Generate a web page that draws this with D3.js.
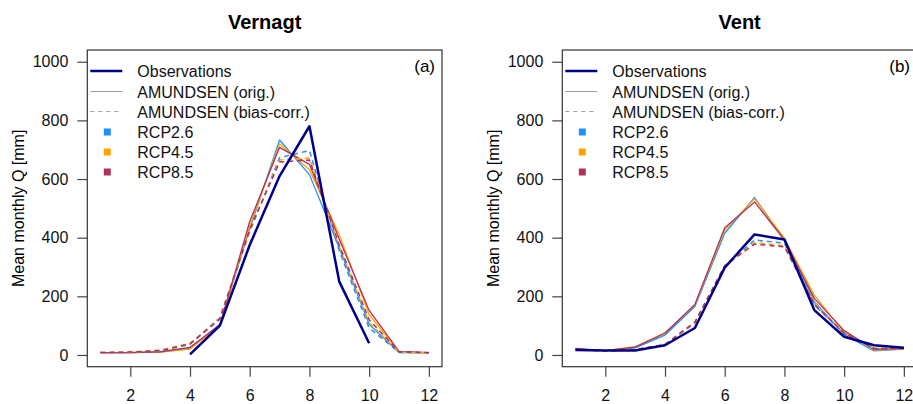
<!DOCTYPE html>
<html>
<head>
<meta charset="utf-8">
<script src="https://cdn.jsdelivr.net/npm/d3@7"></script>
<style>
  html, body { margin: 0; padding: 0; background: #fff; }
  svg { display: block; font-family: "Liberation Sans", Arial, sans-serif; }
</style>
</head>
<body>
<svg id="chart" width="913" height="404"></svg>
<script>
// Months on the x axis
const months = [1, 2, 3, 4, 5, 6, 7, 8, 9, 10, 11, 12];
const xTicks = [2, 4, 6, 8, 10, 12];
const yTicks = [0, 200, 400, 600, 800, 1000];

// Vernagt: mean monthly runoff [mm]
const vernagtObs = [null, null, null, 2, 100, 375, 610, 780, 250, 40, null, null];
const vernagtOrig26 = [8, 8, 10, 22, 105, 430, 733, 615, 365, 105, 8, 7];
const vernagtOrig45 = [8, 8, 10, 20, 100, 440, 720, 632, 410, 138, 10, 7];
const vernagtOrig85 = [8, 8, 11, 26, 102, 455, 708, 650, 395, 152, 12, 8];
const vernagtBias26 = [8, 9, 14, 36, 128, 420, 673, 697, 355, 92, 9, 7];
const vernagtBias45 = [8, 10, 16, 40, 125, 425, 665, 672, 370, 110, 10, 7];
const vernagtBias85 = [8, 10, 15, 38, 122, 428, 658, 665, 375, 120, 11, 8];

// Vent: mean monthly runoff [mm]
const ventObs = [17, 15, 15, 33, 92, 298, 411, 394, 153, 62, 33, 25];
const ventOrig26 = [20, 15, 24, 68, 165, 415, 537, 392, 182, 70, 14, 20];
const ventOrig45 = [18, 15, 28, 76, 170, 426, 533, 398, 204, 76, 17, 20];
const ventOrig85 = [22, 15, 27, 74, 172, 434, 522, 392, 193, 83, 19, 22];
const ventBias26 = [18, 14, 18, 35, 108, 300, 392, 381, 170, 73, 22, 22];
const ventBias45 = [18, 14, 18, 36, 110, 302, 383, 373, 178, 73, 22, 22];
const ventBias85 = [20, 14, 18, 36, 112, 305, 378, 369, 172, 75, 22, 22];

const scenarios = ["RCP2.6", "RCP4.5", "RCP8.5"];
const scenarioColors = ["#1E90FF", "#FFA500", "#B03060"];
const obsColor = "#00008B";
const legendGrey = "#A0A0A0";

const svg = d3.select("#chart");
svg.append("rect").attr("width", 913).attr("height", 404).attr("fill", "#fff");

function drawPanel(cfg) {
  const x = d3.scaleLinear().domain([0.56, 12.44]).range([cfg.left, cfg.left + 354.7]);
  const y = d3.scaleLinear().domain([-40, 1040]).range([366.7, 50]);
  const g = svg.append("g");

  // Axes
  const xAxis = d3.axisBottom(x).tickValues(xTicks).tickSize(10).tickPadding(13).tickFormat(d3.format("d"));
  const yAxis = d3.axisLeft(y).tickValues(yTicks).tickSize(10).tickPadding(9).tickFormat(d3.format("d"));
  const gx = g.append("g").attr("transform", `translate(0,${y.range()[0]})`).call(xAxis);
  const gy = g.append("g").attr("transform", `translate(${x.range()[0]},0)`).call(yAxis);
  [gx, gy].forEach(a => {
    a.attr("font-family", "'Liberation Sans', Arial, sans-serif").attr("font-size", 16);
    a.select(".domain").remove();
    a.selectAll("line").attr("stroke", "#444").attr("stroke-width", 1.2);
    a.selectAll("text").attr("fill", "#111");
  });

  const line = d3.line()
    .defined(d => d != null)
    .x((d, i) => x(months[i]))
    .y(d => y(d));

  // Clip to the plot box
  const clipId = "clip-" + cfg.title;
  svg.append("clipPath").attr("id", clipId).append("rect")
    .attr("x", x.range()[0]).attr("y", y.range()[1])
    .attr("width", x.range()[1] - x.range()[0])
    .attr("height", y.range()[0] - y.range()[1]);
  const plot = g.append("g").attr("clip-path", `url(#${clipId})`);

  // Model runs: original (solid) and bias-corrected (dashed)
  cfg.orig.forEach((s, k) => {
    plot.append("path").datum(s).attr("d", line)
      .attr("fill", "none").attr("stroke", scenarioColors[k]).attr("stroke-width", 1.3)
      .attr("stroke-linejoin", "round");
  });
  cfg.bias.forEach((s, k) => {
    plot.append("path").datum(s).attr("d", line)
      .attr("fill", "none").attr("stroke", scenarioColors[k]).attr("stroke-width", 1.5)
      .attr("stroke-dasharray", "5,4");
  });
  // Observations
  plot.append("path").datum(cfg.obs).attr("d", line)
    .attr("fill", "none").attr("stroke", obsColor).attr("stroke-width", 2.5)
    .attr("stroke-linejoin", "round");

  // Plot box
  g.append("rect")
    .attr("x", x.range()[0]).attr("y", y.range()[1])
    .attr("width", x.range()[1] - x.range()[0])
    .attr("height", y.range()[0] - y.range()[1])
    .attr("fill", "none").attr("stroke", "#333").attr("stroke-width", 1.2);

  // Title
  g.append("text")
    .attr("x", (x.range()[0] + x.range()[1]) / 2).attr("y", 29)
    .attr("text-anchor", "middle").attr("font-size", 20).attr("font-weight", "bold")
    .attr("fill", "#000").text(cfg.title);

  // Panel tag
  g.append("text")
    .attr("x", x.range()[1] - 7).attr("y", 72)
    .attr("text-anchor", "end").attr("font-size", 17).attr("fill", "#000")
    .text(cfg.tag);

  // Y axis title
  g.append("text")
    .attr("transform", `translate(${cfg.left - 63},${(y.range()[0] + y.range()[1]) / 2}) rotate(-90)`)
    .attr("text-anchor", "middle").attr("font-size", 16).attr("fill", "#000")
    .text("Mean monthly Q [mm]");

  // Legend
  const lx = x.range()[0];
  const rows = [71, 91.5, 111.5, 132, 152, 172];
  const leg = g.append("g");
  leg.append("line").attr("x1", lx + 3).attr("x2", lx + 35).attr("y1", rows[0]).attr("y2", rows[0])
    .attr("stroke", obsColor).attr("stroke-width", 2.5);
  leg.append("line").attr("x1", lx + 3).attr("x2", lx + 35).attr("y1", rows[1]).attr("y2", rows[1])
    .attr("stroke", legendGrey).attr("stroke-width", 1.2);
  leg.append("line").attr("x1", lx + 3).attr("x2", lx + 35).attr("y1", rows[2]).attr("y2", rows[2])
    .attr("stroke", legendGrey).attr("stroke-width", 1.2).attr("stroke-dasharray", "4,4");
  scenarios.forEach((s, k) => {
    leg.append("rect").attr("x", lx + 16.5).attr("y", rows[3 + k] - 3.5)
      .attr("width", 7).attr("height", 7).attr("fill", scenarioColors[k]);
  });
  const labels = ["Observations", "AMUNDSEN (orig.)", "AMUNDSEN (bias-corr.)"].concat(scenarios);
  labels.forEach((t, k) => {
    leg.append("text").attr("x", lx + 50).attr("y", rows[k] + 6)
      .attr("font-size", 16).attr("fill", "#111").text(t);
  });
}

drawPanel({
  left: 87.3, title: "Vernagt", tag: "(a)",
  obs: vernagtObs,
  orig: [vernagtOrig26, vernagtOrig45, vernagtOrig85],
  bias: [vernagtBias26, vernagtBias45, vernagtBias85]
});
drawPanel({
  left: 562.3, title: "Vent", tag: "(b)",
  obs: ventObs,
  orig: [ventOrig26, ventOrig45, ventOrig85],
  bias: [ventBias26, ventBias45, ventBias85]
});
</script>
</body>
</html>
